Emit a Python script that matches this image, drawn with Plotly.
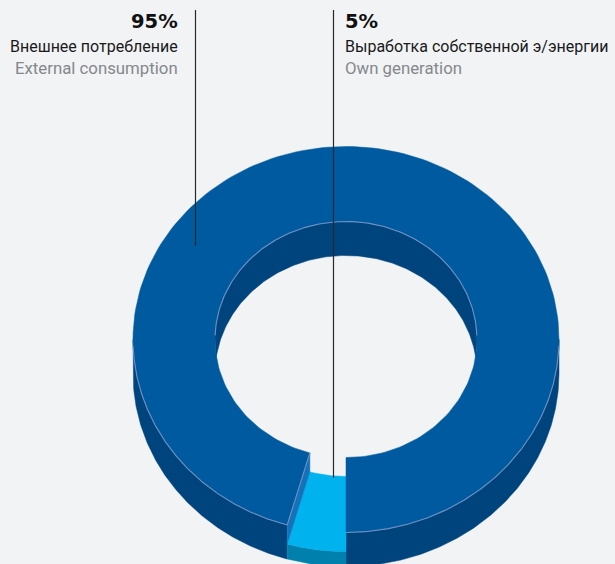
import numpy as np
import plotly.graph_objects as go

# ---- data ----
categories_ru = ["Внешнее потребление", "Выработка собственной э/энергии"]
categories_en = ["External consumption", "Own generation"]
share_labels = ["95%", "5%"]
slice_values = [95.55, 4.45]   # swept size as drawn

# ---- drawing style ----
BG = "#f2f3f5"
TOP = "#005a9f"
WALL = "#00447d"
CYAN = "#00b2ee"
TEAL = "#0080ac"
SIDE = "#1472bb"
RIM = "#7190c0"
LEADER = "#26282b"

CX, CY = 346.0, 339.5
RX_O, RY_O = 213.0, 193.0
RX_I, RY_I = 131.0, 118.0
DEPTH = 34.0
DROP = 19.0

total = sum(slice_values)
blue_end = slice_values[0] / total * 360.0


def arc(rx, ry, a0, a1, dy=0.0, n=200):
    t = np.radians(np.linspace(a0, a1, n))
    return CX + rx * np.sin(t), CY + dy + ry * np.cos(t)


def band(a0, a1, rx, ry, dy0, dy1):
    x0, y0 = arc(rx, ry, a0, a1, dy0)
    x1, y1 = arc(rx, ry, a1, a0, dy1)
    return np.r_[x0, x1, x0[0]], np.r_[y0, y1, y0[0]]


def sector(a0, a1, dy=0.0):
    x0, y0 = arc(RX_O, RY_O, a0, a1, dy)
    x1, y1 = arc(RX_I, RY_I, a1, a0, dy)
    return np.r_[x0, x1, x0[0]], np.r_[y0, y1, y0[0]]


fig = go.Figure()


def poly(xy, color, name):
    fig.add_trace(go.Scatter(x=xy[0], y=xy[1], mode="lines", fill="toself",
                             fillcolor=color, line=dict(color=color, width=0.5),
                             name=name, hoverinfo="skip", showlegend=False))


def stroke(xy, color, width, name):
    fig.add_trace(go.Scatter(x=xy[0], y=xy[1], mode="lines",
                             line=dict(color=color, width=width),
                             name=name, hoverinfo="skip", showlegend=False))


# outer walls
poly(band(0, 90, RX_O, RY_O, 0, DEPTH), WALL, "wall right")
poly(band(blue_end, 270, RX_O, RY_O, 0, DEPTH), WALL, "wall left")
poly(band(blue_end, 360, RX_O, RY_O, DROP, DEPTH), TEAL, "wall own")

# inner back wall (crescent between the hole rim and the same rim moved down)
c = np.degrees(np.arccos((DEPTH / 2) / RY_I))
xa, ya = arc(RX_I, RY_I, c, 360 - c)
c2 = 180 - c
xb, yb = arc(RX_I, RY_I, 360 - c2, c2, DEPTH)
poly((np.r_[xa, xb, xa[0]], np.r_[ya, yb, ya[0]]), WALL, "wall hole")

# lowered slice and the face it exposes
poly(sector(blue_end, 360, DROP), CYAN, categories_en[1])
xo, yo = arc(RX_O, RY_O, blue_end, blue_end, 0, 1)
xi, yi = arc(RX_I, RY_I, blue_end, blue_end, 0, 1)
poly((np.r_[xi, xo, xo, xi, xi], np.r_[yi, yo, yo + DROP, yi + DROP, yi]), SIDE, "cut face")

# top face
poly(sector(0, blue_end), TOP, categories_en[0])

# rim highlights
stroke(arc(RX_O, RY_O, 0, 88), RIM, 1.1, "rim")
stroke(arc(RX_O, RY_O, blue_end, 272), RIM, 1.1, "rim")
stroke(arc(RX_I, RY_I, 92, 268), RIM, 1.1, "rim")
stroke((np.r_[xi, xo], np.r_[yi, yo]), RIM, 1.1, "rim")

# leader lines
stroke(([195.5, 195.5], [10, 246]), LEADER, 1.2, "leader")
stroke(([333.5, 333.5], [10, 478]), LEADER, 1.2, "leader")


def label(x, y, text, size, color, family, anchor):
    fig.add_annotation(x=x, y=y, xref="x", yref="y", text=text, showarrow=False,
                       xanchor=anchor, yanchor="middle", align=anchor,
                       borderpad=0, borderwidth=0,
                       font=dict(size=size, color=color, family=family))


BODY = "Roboto"
HEAD = "DejaVu Sans"
label(178, 21, f"<b>{share_labels[0]}</b>", 19.5, "#111111", HEAD, "right")
label(178, 46, categories_ru[0], 16, "#1a1a1a", BODY, "right")
label(178, 68, categories_en[0], 16.8, "#85888b", BODY, "right")
label(345, 21, f"<b>{share_labels[1]}</b>", 19.5, "#111111", HEAD, "left")
label(345, 46, categories_ru[1], 16, "#1a1a1a", BODY, "left")
label(345, 68, categories_en[1], 16.8, "#85888b", BODY, "left")

fig.update_xaxes(range=[0, 615], visible=False, domain=[0, 1], fixedrange=True)
fig.update_yaxes(range=[564, 0], visible=False, domain=[0, 1], fixedrange=True)
fig.update_layout(width=615, height=564, margin=dict(l=0, r=0, t=0, b=0, pad=0),
                  paper_bgcolor=BG, plot_bgcolor=BG, showlegend=False)

fig.write_html("out.html", config={"displayModeBar": False},
               post_script="document.body.style.margin='0';document.documentElement.style.overflow='hidden';")
